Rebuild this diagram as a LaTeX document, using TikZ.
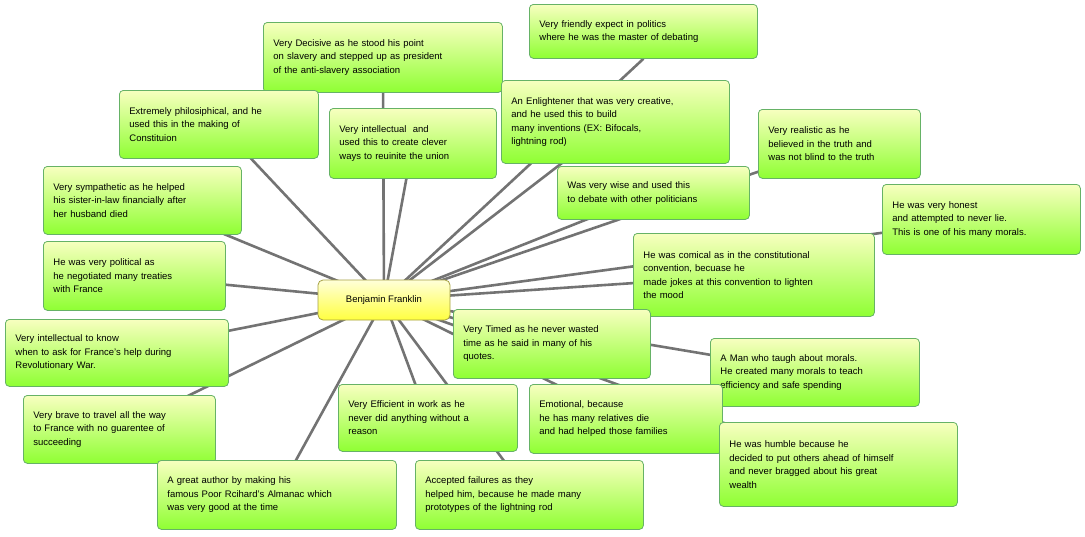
\documentclass[tikz,border=0pt]{standalone}
\usepackage{fontspec}
\setmainfont{Liberation Sans}
\usetikzlibrary{backgrounds}
\tikzset{
  gbox/.style={draw=green!50!black!60, line width=0.8pt, rounded corners=4pt, top color=green!12!yellow!25, bottom color=green!55!yellow!80, align=left, inner sep=10pt, font=\fontsize{9.5}{13.5}\selectfont},
  ybox/.style={draw=yellow!60!black, line width=0.8pt, rounded corners=5pt, top color=yellow!15, bottom color=yellow!75, font=\fontsize{9.5}{13.5}\selectfont},
  link/.style={draw=black!55, line width=2.6pt}
}
\newcommand{\bx}[6]{%
  \pgfmathsetmacro{\bw}{#4-#2}\pgfmathsetmacro{\bh}{#5-#3}\pgfmathsetmacro{\tw}{#4-#2-20}%
  \node[gbox, anchor=north west, minimum width=\bw pt, minimum height=\bh pt, text width=\tw pt] (#1) at (#2,#3) {#6};}
\begin{document}
\begin{tikzpicture}[x=1pt,y=-1pt]
\useasboundingbox (0,0) rectangle (1085,536);
\node[ybox, minimum width=132, minimum height=40] (c) at (384,300) {Benjamin Franklin};
\bx{a}{263}{22}{502}{92}{Very Decisive as he stood his point\\on slavery and stepped up as president\\of the anti-slavery association}
\bx{b}{529}{4}{757}{58}{Very friendly expect in politics\\where he was the master of debating}
\bx{d}{119}{90}{318}{158}{Extremely philosiphical, and he\\used this in the making of\\Constituion}
\bx{e}{329}{108}{496}{178}{Very intellectual \ and\\used this to create clever\\ways to reuinite the union}
\bx{f}{501}{80}{729}{163}{An Enlightener that was very creative,\\and he used this to build\\many inventions (EX: Bifocals,\\lightning rod)}
\bx{g}{758}{109}{920}{178}{Very realistic as he\\believed in the truth and\\was not blind to the truth}
\bx{h}{43}{166}{241}{234}{Very sympathetic as he helped\\his sister-in-law financially after\\her husband died}
\bx{i}{557}{166}{749}{219}{Was very wise and used this\\to debate with other politicians}
\bx{j}{882}{184}{1080}{254}{He was very honest\\and attempted to never lie.\\This is one of his many morals.}
\bx{k}{43}{241}{225}{310}{He was very political as\\he negotiated many treaties\\with France}
\bx{l}{633}{233}{874}{316}{He was comical as in the constitutional\\convention, becuase he\\made jokes at this convention to lighten\\the mood}
\bx{m}{5}{319}{228}{386}{Very intellectual to know\\when to ask for France's help during\\Revolutionary War.}
\bx{n}{453}{309}{650}{378}{Very Timed as he never wasted\\time as he said in many of his\\quotes.}
\bx{o}{710}{338}{919}{406}{A Man who taugh about morals.\\He created many morals to teach\\efficiency and safe spending}
\bx{p}{23}{395}{215}{463}{Very brave to travel all the way\\to France with no guarentee of\\succeeding}
\bx{q}{338}{384}{517}{451}{Very Efficient in work as he\\never did anything without a\\reason}
\bx{r}{529}{384}{722}{453}{Emotional, because\\he has many relatives die\\and had helped those families}
\bx{s}{719}{422}{957}{506}{He was humble because he\\decided to put others ahead of himself\\and never bragged about his great\\wealth}
\bx{t}{157}{460}{396}{529}{A great author by making his\\famous Poor Rcihard's Almanac which\\was very good at the time}
\bx{u}{415}{460}{643}{529}{Accepted failures as they\\helped him, because he made many\\prototypes of the lightning rod}
\begin{pgfonlayer}{background}
\foreach \t in {a,d,e,f,g,h,i,j,k,l,m,n,o,p,q,r,s,t,u} \path[link] (c.center) -- (\t.center);
\path[link] (c.center) -- (b.south);
\end{pgfonlayer}
\end{tikzpicture}
\end{document}
